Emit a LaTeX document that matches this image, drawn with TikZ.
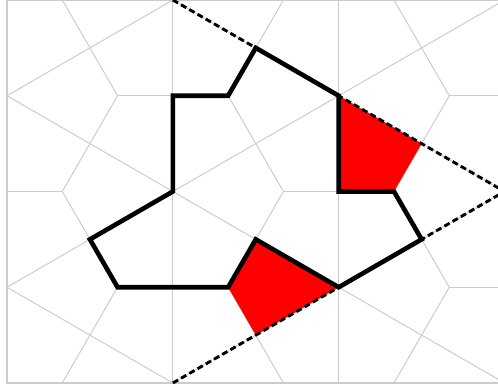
\documentclass[tikz,border=0pt]{standalone}
\begin{document}
\begin{tikzpicture}[x=1pt,y=-1pt,
  tile/.style={draw=black!20, line width=1pt},
  frameline/.style={draw=black!20, line width=1.8pt},
  kite/.style={fill=red},
  boundary/.style={draw=black, line width=4.6pt, line join=miter},
  guide/.style={draw=black, line width=2.9pt, dash pattern=on 6pt off 3.5pt}]
\useasboundingbox (0,0) rectangle (498,387);
\def\h{165.85}\def\s{95.75}
% named points
\coordinate (P1) at (172.85,191.5);
\coordinate (P2) at (172.85,95.75);
\coordinate (P3) at (228.13,95.75);
\coordinate (P4) at (255.78,47.88);
\coordinate (P5) at (338.7,95.75);
\coordinate (P6) at (338.7,191.5);
\coordinate (P7) at (393.98,191.5);
\coordinate (P8) at (421.63,239.38);
\coordinate (P9) at (338.7,287.25);
\coordinate (P10) at (255.78,239.38);
\coordinate (P11) at (228.13,287.25);
\coordinate (P12) at (117.57,287.25);
\coordinate (P13) at (89.93,239.38);
\coordinate (K1) at (421.63,143.63);
\coordinate (K2) at (255.78,335.13);
\coordinate (T) at (172.85,0);
\coordinate (B) at (172.85,383);
\coordinate (A) at (504.55,191.5);
% grey tiling
\begin{scope}
\clip (7,0.5) rectangle (498,383);
\foreach \i in {-1,...,4}{
  \foreach \k in {-2,...,3}{
    \pgfmathsetmacro\xx{7+\i*\h}
    \pgfmathsetmacro\yy{(2*\k+mod(\i+11,2))*\s}
    \draw[tile] (\xx,\yy) -- (\xx,\yy+2*\s);
    \draw[tile] (\xx,\yy) -- (\xx+\h,\yy+\s);
    \draw[tile] (\xx,\yy) -- (\xx+\h,\yy-\s);
    \draw[tile] (\xx+\h/3,\yy+\s) -- (\xx-\h/3,\yy+\s);
    \draw[tile] (\xx+\h/3,\yy+\s) -- (\xx+2*\h/3,\yy+2*\s);
    \draw[tile] (\xx+\h/3,\yy+\s) -- (\xx+2*\h/3,\yy);
  }
}
\end{scope}
\begin{scope}
\clip (0,0) rectangle (498,387);
\draw[frameline] (7,0.6) rectangle (510,383);
\fill[kite] (P5) -- (P6) -- (P7) -- (K1) -- cycle;
\fill[kite] (P9) -- (P10) -- (P11) -- (K2) -- cycle;
\draw[boundary] (P1) -- (P2) -- (P3) -- (P4) -- (P5) -- (P6) -- (P7) -- (P8) -- (P9) -- (P10) -- (P11) -- (P12) -- (P13) -- cycle;
\draw[guide] (T) -- (A) -- (B);
\end{scope}
\end{tikzpicture}
\end{document}
